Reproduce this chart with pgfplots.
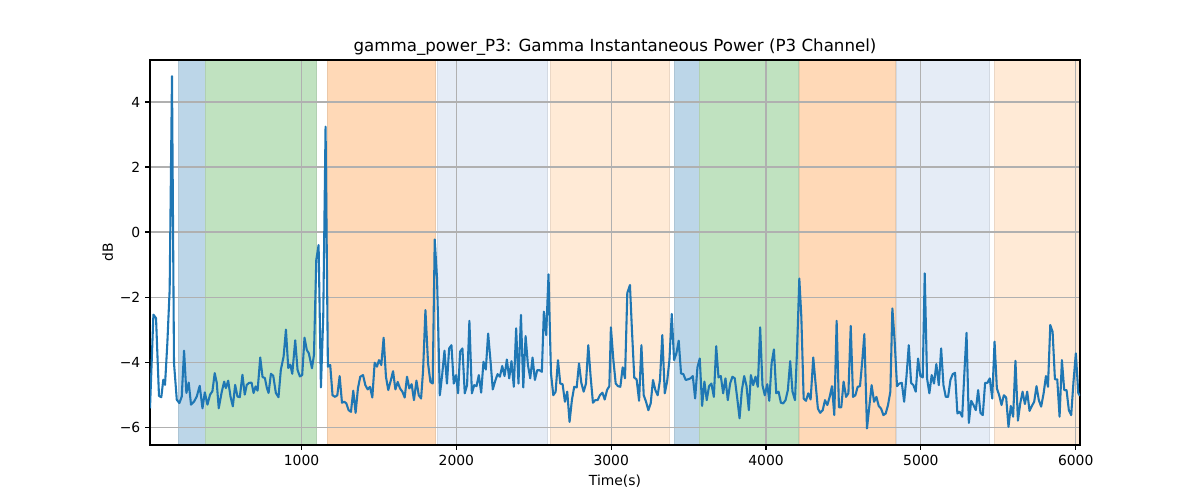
\documentclass[border=0pt]{standalone}
\usepackage{pgfplots}
\pgfplotsset{compat=1.18}
\usepackage{fontspec}
\setmainfont{DejaVu Sans}
\definecolor{tabblue}{HTML}{1F77B4}
\definecolor{spblue}{HTML}{BCD6E8}
\definecolor{spgreen}{HTML}{C0E2C0}
\definecolor{sporange}{HTML}{FFD9B7}
\definecolor{splblue}{HTML}{E5ECF6}
\definecolor{splorange}{HTML}{FFEAD6}
\definecolor{gridgray}{HTML}{B0B0B0}
\pgfplotsset{span/.style={on layer=axis background, fill=#1, draw=#1!92!black, line width=0.3pt, forget plot}}
\begin{document}
\begin{tikzpicture}
\begin{axis}[
  at={(0,0)}, anchor=south west,
  scale only axis, width=669.6pt, height=277.2pt,
  set layers, clip mode=individual,
  xmin=21, xmax=6028, ymin=-6.55, ymax=5.29,
  xtick={1000,2000,3000,4000,5000,6000},
  ytick={-6,-4,-2,0,2,4},
  yticklabels={−6,−4,−2,0,2,4},
  /pgf/number format/assume math mode=true,
  /pgf/number format/1000 sep={},
  tick label style={font=\fontsize{10}{12}\selectfont},
  tick pos=left, tick align=outside, major tick length=3.5pt,
  every tick/.style={black, line width=0.8pt},
  grid=major, major grid style={gridgray, line width=0.8pt},
  axis line style={black, line width=0.8pt},
  title={gamma\_power\_P3: Gamma Instantaneous Power (P3 Channel)},
  title style={font=\fontsize{12}{14}\selectfont, yshift=-6pt},
  xlabel={Time(s)}, ylabel={dB},
  label style={font=\fontsize{10}{12}\selectfont},
  xlabel style={yshift=0pt},
  ylabel style={yshift=-2pt},
]
\addplot[span=spblue] coordinates {(200,-6.55) (200,5.29) (377,5.29) (377,-6.55)};
\addplot[span=spgreen] coordinates {(377,-6.55) (377,5.29) (1095,5.29) (1095,-6.55)};
\addplot[span=sporange] coordinates {(1164,-6.55) (1164,5.29) (1860,5.29) (1860,-6.55)};
\addplot[span=splblue] coordinates {(1878,-6.55) (1878,5.29) (2587,5.29) (2587,-6.55)};
\addplot[span=splorange] coordinates {(2604,-6.55) (2604,5.29) (3372,5.29) (3372,-6.55)};
\addplot[span=spblue] coordinates {(3408,-6.55) (3408,5.29) (3568,5.29) (3568,-6.55)};
\addplot[span=spgreen] coordinates {(3568,-6.55) (3568,5.29) (4206,5.29) (4206,-6.55)};
\addplot[span=sporange] coordinates {(4215,-6.55) (4215,5.29) (4836,5.29) (4836,-6.55)};
\addplot[span=splblue] coordinates {(4842,-6.55) (4842,5.29) (5444,5.29) (5444,-6.55)};
\addplot[span=splorange] coordinates {(5476,-6.55) (5476,5.29) (6028,5.29) (6028,-6.55)};
\addplot[tabblue, line width=1.5pt, line join=round] table {
t v
21 -5.42
43 -2.54
60 -2.65
79 -5.04
94 -5.08
107 -4.54
118 -4.70
133 -3.42
148 -1.77
163 4.79
176 -4.03
194 -5.16
211 -5.26
226 -5.06
241 -3.65
256 -4.95
271 -4.63
286 -5.31
306 -5.21
323 -5.06
342 -4.73
360 -5.42
375 -4.93
392 -5.31
409 -5.00
424 -4.90
439 -4.34
452 -4.63
465 -5.42
483 -4.95
500 -4.60
511 -4.80
526 -4.57
541 -5.06
556 -5.36
571 -4.70
586 -5.06
601 -5.08
618 -4.39
633 -5.00
646 -4.70
661 -4.64
677 -4.63
690 -4.95
703 -4.75
716 -4.88
733 -3.86
748 -4.46
763 -4.49
776 -4.80
787 -4.95
802 -4.36
817 -4.42
834 -4.95
851 -5.08
866 -4.24
884 -3.83
899 -3.00
914 -4.18
927 -4.08
940 -4.36
959 -3.33
974 -4.24
989 -4.44
1004 -4.40
1019 -3.25
1034 -3.63
1047 -3.73
1067 -4.19
1080 -3.78
1095 -0.86
1110 -0.40
1125 -4.78
1140 -2.60
1155 3.24
1170 -4.14
1185 -4.09
1200 -5.02
1216 -5.07
1231 -5.02
1246 -4.43
1261 -5.25
1276 -5.22
1289 -5.27
1304 -5.48
1319 -5.53
1334 -4.88
1349 -5.56
1364 -4.81
1379 -4.45
1397 -4.40
1412 -4.71
1427 -4.84
1442 -4.76
1457 -5.09
1472 -4.02
1487 -4.14
1500 -3.94
1515 -4.09
1530 -3.25
1545 -4.45
1560 -4.86
1576 -4.57
1591 -4.28
1606 -4.84
1621 -4.61
1636 -4.81
1651 -4.91
1666 -5.09
1681 -4.45
1696 -4.81
1711 -4.68
1726 -5.17
1742 -4.57
1757 -5.02
1772 -5.12
1785 -4.25
1800 -2.40
1817 -4.04
1832 -4.61
1847 -4.66
1860 -0.23
1875 -1.43
1893 -5.02
1908 -4.40
1923 -3.65
1939 -4.66
1953 -3.58
1968 -3.48
1983 -4.66
1998 -4.40
2011 -4.96
2024 -3.68
2039 -3.58
2054 -4.96
2069 -4.71
2084 -2.73
2100 -4.96
2115 -4.71
2130 -4.74
2145 -4.40
2160 -4.94
2175 -3.99
2190 -4.23
2205 -3.12
2220 -3.94
2235 -4.84
2250 -4.59
2266 -4.37
2281 -4.45
2296 -4.12
2311 -4.43
2326 -3.92
2341 -4.50
2356 -3.97
2371 -4.76
2386 -2.96
2401 -4.66
2417 -2.55
2432 -4.78
2447 -3.20
2462 -4.09
2477 -4.50
2492 -3.86
2507 -4.55
2522 -4.25
2537 -4.25
2552 -4.30
2565 -2.45
2580 -3.17
2595 -1.30
2611 -4.35
2626 -5.02
2641 -4.91
2656 -3.94
2671 -4.66
2686 -4.68
2701 -5.22
2716 -4.91
2731 -5.84
2746 -5.17
2761 -4.76
2777 -4.78
2792 -4.04
2807 -4.64
2822 -4.91
2837 -4.66
2852 -3.48
2867 -4.45
2882 -5.25
2897 -5.17
2912 -5.17
2927 -5.02
2943 -4.94
2958 -5.15
2973 -4.86
2988 -4.74
2998 -2.93
3014 -3.94
3029 -4.66
3044 -4.74
3059 -4.76
3074 -4.16
3089 -4.50
3104 -1.87
3121 -1.63
3134 -3.02
3149 -4.48
3164 -4.53
3180 -5.19
3195 -3.48
3210 -5.02
3225 -5.22
3240 -5.48
3255 -5.27
3270 -4.55
3285 -4.86
3300 -5.02
3315 -4.55
3330 -3.17
3346 -4.96
3361 -4.60
3376 -3.94
3391 -2.52
3406 -3.94
3421 -3.73
3436 -3.34
3451 -4.35
3466 -4.37
3481 -4.55
3496 -4.53
3512 -4.50
3527 -4.43
3542 -5.12
3557 -4.16
3572 -3.89
3587 -5.35
3602 -4.60
3617 -5.17
3632 -4.74
3647 -4.66
3663 -5.07
3678 -3.51
3693 -4.47
3708 -4.43
3723 -4.96
3738 -4.50
3753 -5.17
3768 -4.66
3783 -4.45
3798 -4.50
3813 -5.07
3829 -5.73
3844 -4.86
3859 -4.43
3874 -4.74
3889 -5.48
3902 -4.40
3917 -4.71
3932 -4.45
3947 -4.76
3962 -2.93
3977 -4.71
3992 -5.02
4008 -4.68
4021 -5.19
4036 -4.04
4051 -3.61
4066 -4.96
4081 -4.91
4096 -5.25
4111 -5.27
4126 -5.17
4141 -4.86
4156 -3.97
4171 -4.91
4187 -5.17
4200 -3.68
4215 -1.43
4228 -2.61
4243 -5.12
4258 -5.19
4273 -4.96
4288 -5.15
4305 -3.86
4320 -4.66
4335 -5.43
4350 -5.56
4366 -5.48
4381 -5.17
4396 -5.32
4411 -5.07
4426 -4.74
4441 -5.63
4456 -2.73
4471 -5.39
4486 -5.39
4501 -4.60
4517 -5.07
4532 -4.96
4547 -2.89
4562 -5.07
4577 -5.02
4592 -4.76
4607 -4.74
4622 -3.94
4635 -3.14
4652 -6.04
4667 -5.37
4682 -4.71
4698 -5.22
4713 -5.07
4728 -5.35
4743 -5.43
4758 -5.63
4773 -5.58
4788 -5.32
4803 -4.91
4816 -2.35
4831 -3.37
4846 -4.74
4861 -4.66
4877 -4.64
4892 -5.22
4907 -4.45
4922 -3.48
4937 -4.64
4952 -4.71
4967 -4.91
4982 -3.89
4997 -4.43
5012 -4.47
5025 -1.27
5040 -4.50
5055 -4.96
5070 -4.40
5085 -4.66
5100 -4.06
5116 -4.71
5131 -3.58
5146 -4.71
5161 -5.07
5176 -5.07
5191 -4.55
5206 -4.37
5221 -4.33
5236 -5.58
5251 -5.53
5267 -5.68
5282 -4.25
5295 -3.10
5310 -5.87
5325 -5.19
5340 -5.32
5355 -5.48
5370 -4.86
5385 -5.56
5400 -5.63
5415 -4.64
5430 -4.64
5445 -4.50
5461 -5.12
5476 -3.37
5491 -4.81
5506 -5.02
5521 -5.32
5536 -5.02
5551 -5.09
5566 -5.99
5581 -5.35
5596 -5.68
5611 -3.96
5627 -5.80
5642 -5.27
5657 -4.91
5672 -5.29
5687 -4.91
5702 -5.50
5717 -5.35
5732 -5.22
5747 -4.74
5762 -5.17
5777 -5.37
5793 -4.96
5808 -4.43
5821 -4.76
5836 -2.86
5851 -3.07
5866 -4.53
5881 -4.53
5896 -5.68
5911 -3.94
5926 -4.86
5941 -4.86
5956 -5.48
5971 -5.63
5986 -4.60
6001 -3.73
6017 -4.96
6028 -5.04
};
\end{axis}
\path[use as bounding box] (-108pt,-39.6pt) rectangle (756pt,320.4pt);
\end{tikzpicture}
\end{document}
